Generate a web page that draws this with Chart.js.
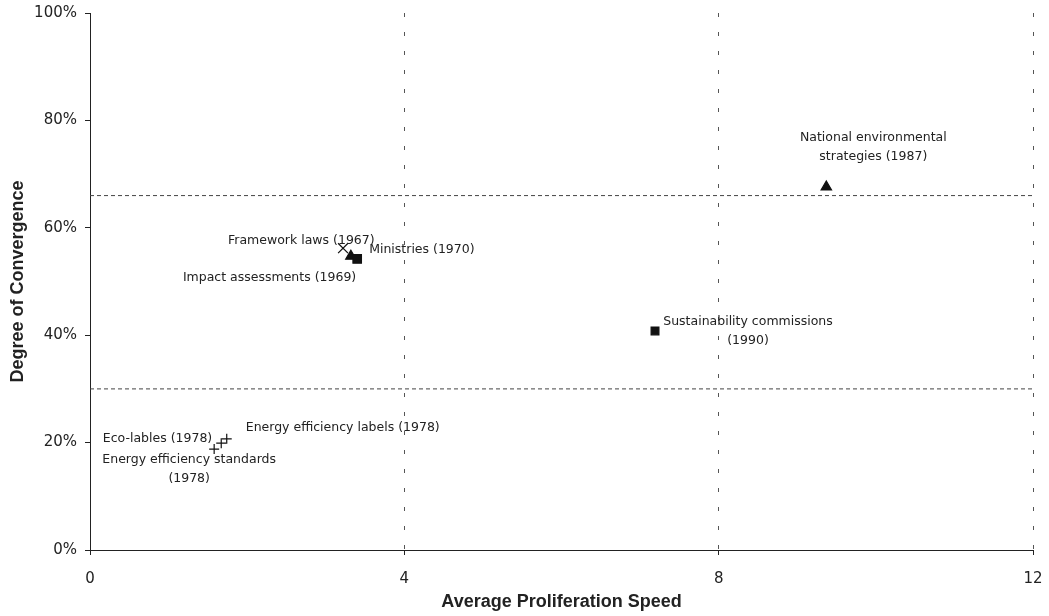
<!DOCTYPE html>
<html lang="en">
<head>
    <meta charset="UTF-8">
    <title>Degree of Convergence vs Average Proliferation Speed</title>
    <script src="https://cdn.jsdelivr.net/npm/chart.js"></script>
    <style>
        html, body { margin: 0; padding: 0; background: #fff; }
        #wrap { width: 1049px; height: 616px; position: relative; }
    </style>
</head>
<body>
    <div id="wrap"><canvas id="policyChart"></canvas></div>

    <script>
        // policy instruments (label lines split by \n)
        const policies = [
            'Framework laws (1967)',
            'Impact assessments (1969)',
            'Ministries (1970)',
            'National environmental\nstrategies (1987)',
            'Sustainability commissions\n(1990)',
            'Energy efficiency labels (1978)',
            'Eco-lables (1978)',
            'Energy efficiency standards\n(1978)'
        ];
        const speed = [3.22, 3.32, 3.40, 9.37, 7.19, 1.74, 1.67, 1.58];
        const convergence = [56.2, 54.7, 54.2, 67.6, 40.8, 20.7, 19.9, 18.8];
        const thresholds = [66, 30];
        const xTicks = [0, 4, 8, 12];
        const yTicks = [0, 20, 40, 60, 80, 100];

        // marker look and where each label sits relative to its point (px)
        const markerStyles = ['crossRot', 'triangle', 'rect', 'triangle', 'rect', 'cross', 'cross', 'cross'];
        const markerRadius = [7, 6, 6, 6, 5.5, 5, 5, 5];
        const labelPos = [
            { dx: -115, dy: -7, align: 'left' },
            { dx: -168, dy: 21, align: 'left' },
            { dx: 12, dy: -9, align: 'left' },
            { dx: 47, dy: -49, align: 'center' },
            { dx: 93, dy: -9, align: 'center' },
            { dx: 19, dy: -11, align: 'left' },
            { dx: -9, dy: -4, align: 'right' },
            { dx: -25, dy: 11, align: 'center' }
        ];

        const textColor = '#222';

        const pointLabels = {
            id: 'pointLabels',
            afterDatasetsDraw(chart) {
                const meta = chart.getDatasetMeta(chart.data.datasets.length - 1);
                const ctx = chart.ctx;
                ctx.save();
                ctx.font = '12.5px "DejaVu Sans", Verdana, sans-serif';
                ctx.fillStyle = textColor;
                ctx.textBaseline = 'middle';
                meta.data.forEach((pt, i) => {
                    const p = labelPos[i];
                    ctx.textAlign = p.align;
                    policies[i].split('\n').forEach((line, j) => {
                        ctx.fillText(line, pt.x + p.dx, pt.y + p.dy + j * 18.5);
                    });
                });
                ctx.restore();
            }
        };

        const datasets = thresholds.map(t => ({
            type: 'line',
            data: [{ x: xTicks[0], y: t }, { x: xTicks[xTicks.length - 1], y: t }],
            borderColor: '#444',
            borderWidth: 1,
            borderDash: [4, 3],
            pointRadius: 0,
            order: 2
        }));
        datasets.push({
            type: 'scatter',
            data: speed.map((s, i) => ({ x: s, y: convergence[i] })),
            pointStyle: markerStyles,
            pointRadius: markerRadius,
            backgroundColor: '#111',
            borderColor: '#111',
            borderWidth: 1.2,
            order: 0
        });

        Chart.defaults.font.family = '"DejaVu Sans", Verdana, sans-serif';
        Chart.defaults.color = textColor;

        const titleFont = { family: '"Liberation Sans", Arial, sans-serif', size: 18, weight: 'bold' };

        new Chart(document.getElementById('policyChart'), {
            data: { datasets: datasets },
            options: {
                responsive: true,
                maintainAspectRatio: false,
                animation: false,
                layout: { padding: { top: 13, right: 16, left: 0, bottom: 0 } },
                plugins: {
                    legend: { display: false },
                    tooltip: { enabled: false }
                },
                scales: {
                    x: {
                        type: 'linear',
                        min: 0,
                        max: 12,
                        afterBuildTicks: s => { s.ticks = xTicks.map(v => ({ value: v })); },
                        afterFit: s => { s.height = 66; s.paddingLeft = 0; s.paddingRight = 0; },
                        ticks: { font: { size: 15 }, color: textColor, padding: 15 },
                        grid: {
                            color: c => c.index === 0 ? 'rgba(0,0,0,0)' : '#555',
                            tickColor: '#222',
                            tickLength: 5,
                            lineWidth: 1
                        },
                        border: { color: '#222', width: 1, dash: [4, 15] },
                        title: {
                            display: true,
                            text: 'Average Proliferation Speed',
                            color: textColor,
                            font: titleFont,
                            padding: { top: 0, bottom: 3 }
                        }
                    },
                    y: {
                        type: 'linear',
                        min: 0,
                        max: 100,
                        afterBuildTicks: s => { s.ticks = yTicks.map(v => ({ value: v })); },
                        afterFit: s => { s.width = 90; s.paddingTop = 0; s.paddingBottom = 0; },
                        ticks: {
                            font: { size: 15 },
                            color: textColor,
                            padding: 8,
                            callback: v => v + '%'
                        },
                        grid: {
                            drawOnChartArea: false,
                            tickColor: '#222',
                            tickLength: 5
                        },
                        border: { color: '#222', width: 1 },
                        title: {
                            display: true,
                            text: 'Degree of Convergence',
                            color: textColor,
                            font: titleFont,
                            padding: { top: 7, bottom: 0 }
                        }
                    }
                }
            },
            plugins: [pointLabels]
        });
    </script>
</body>
</html>
